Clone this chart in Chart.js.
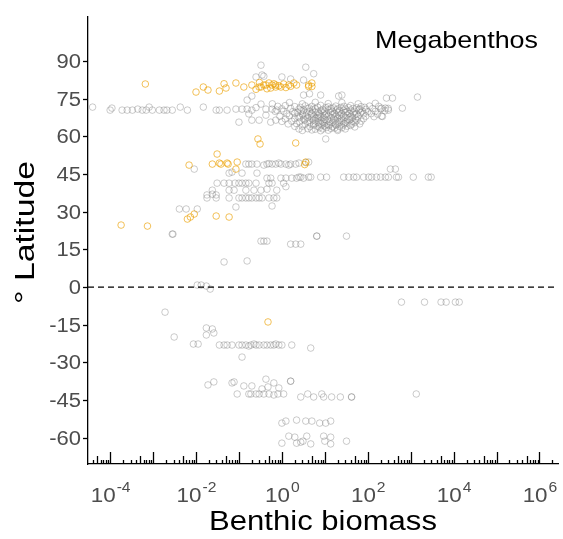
<!DOCTYPE html>
<html>
<head>
<meta charset="utf-8">
<title>Megabenthos</title>
<script src="https://cdn.jsdelivr.net/npm/chart.js@4.4.1/dist/chart.umd.min.js"></script>
<style>
  html, body { margin: 0; padding: 0; background: #fff; }
  #wrap { width: 563px; height: 539px; position: relative; }
</style>
</head>
<body>
<div id="wrap"><canvas id="chart"></canvas></div>
<script>
// Samples are [biomass, latitude]; orange = highlighted records, gray = the rest

const orangeHigh = [
  [6.6e-4, 80.9], [0.010, 77.7], [0.0148, 79.7], [0.019, 78.5], [0.035, 78.1], [0.045, 81.0],
  [0.050, 79.3], [0.085, 81.3], [0.13, 79.7], [0.20, 80.5], [0.25, 78.8], [0.295, 79.7],
  [0.30, 81.5], [0.326, 79.7], [0.38, 80.5], [0.425, 80.5], [0.45, 79.0], [0.50, 81.3],
  [0.55, 79.3], [0.59, 80.5], [0.65, 81.0], [0.72, 79.7], [0.72, 80.5], [0.85, 80.2],
  [0.95, 79.7], [1.1, 80.9], [1.24, 79.5], [1.45, 80.5], [1.6, 80.0], [1.9, 81.3],
  [2.2, 80.5], [4.2, 80.5], [5.0, 81.3], [4.2, 79.9], [5.0, 79.9]
];
const orangeMid = [
  [0.277, 59.0], [0.31, 57.0], [2.1, 57.4], [0.031, 53.0], [6.9e-3, 48.6], [0.024, 49.0],
  [0.035, 49.4], [0.038, 49.0], [0.053, 49.4], [0.056, 49.0], [0.091, 49.8], [0.085, 47.0],
  [3.6, 49.8], [3.4, 48.8]
];
const orangeLow = [
  [1.8e-4, 24.7], [7.4e-4, 24.3], [6.3e-3, 27.1], [7.4e-3, 27.9], [9.1e-3, 29.1],
  [0.0295, 28.3], [0.059, 27.9], [0.475, -13.9]
];

const grayArcticRow = [
  [3.9e-5, 71.7], [1.0e-4, 70.5], [1.1e-4, 71.3], [1.9e-4, 70.5], [2.5e-4, 70.5], [3.3e-4, 70.5],
  [4.4e-4, 70.9], [5.6e-4, 70.5], [6.9e-4, 70.5], [8.1e-4, 71.7], [9.6e-4, 70.5], [1.4e-3, 70.5],
  [1.8e-3, 70.5], [2.1e-3, 70.5], [2.8e-3, 70.5], [4.3e-3, 71.7], [6.3e-3, 70.5], [0.0148, 71.7],
  [0.0295, 70.5], [0.035, 70.5], [0.053, 70.5], [0.085, 70.9], [0.118, 70.9], [0.155, 70.9],
  [0.20, 70.5], [0.326, 72.9], [0.425, 70.9], [0.59, 70.9], [0.76, 70.5]
];
const grayArcticScatter = [
  [0.326, 88.4], [3.6, 87.6], [5.5, 85.0], [0.25, 83.7], [0.345, 84.5], [0.38, 84.0],
  [1.0, 83.7], [1.6, 82.9], [3.2, 82.5], [0.20, 76.1], [0.155, 74.5], [4.4, 77.0],
  [3.2, 76.5], [8.0, 76.5], [25, 76.5], [21, 76.1], [273, 75.3], [377, 75.3], [1440, 75.7],
  [640, 71.3], [210, 71.3], [258, 71.3], [303, 70.5], [210, 68.1], [0.10, 65.7], [0.295, 66.5],
  [0.425, 68.5], [0.55, 65.7], [0.72, 66.5], [0.17, 69.0], [0.20, 66.5], [0.25, 71.5], [10.5, 59.0]
];
// the dense Barents / Norwegian shelf cluster
const grayShelf = [
  [0.6, 73.0], [1.5, 73.5], [3, 73.0], [6, 73.6], [12, 73.1], [25, 73.5], [60, 73.0], [150, 73.2],
  [0.8, 72.0], [1.2, 72.3], [2, 71.9], [3.5, 72.2], [5, 72.0], [8, 72.4], [12, 71.8], [18, 72.1],
  [28, 72.0], [40, 72.3], [70, 71.9], [110, 72.1], [180, 72.0],
  [1, 71.0], [1.6, 71.2], [2.5, 70.9], [4, 71.1], [6, 71.0], [9, 70.8], [14, 71.2], [20, 71.0],
  [30, 70.9], [45, 71.1], [65, 71.0], [90, 70.8], [130, 71.1], [200, 71.0], [300, 71.2],
  [0.7, 70.0], [1.1, 70.1], [1.8, 69.9], [2.8, 70.2], [4.5, 70.0], [7, 69.8], [10, 70.1], [15, 70.0],
  [22, 70.2], [33, 69.9], [50, 70.0], [75, 70.1], [100, 69.9], [150, 70.0], [250, 70.2],
  [1.3, 69.0], [2, 69.2], [3, 68.9], [5, 69.1], [7.5, 69.0], [11, 68.8], [17, 69.1], [25, 69.0],
  [38, 69.2], [55, 68.9], [80, 69.0], [120, 69.1], [170, 68.9],
  [0.9, 68.0], [1.5, 68.2], [2.4, 67.9], [3.6, 68.1], [5.5, 68.0], [8, 67.8], [12, 68.1], [18, 68.0],
  [27, 68.2], [40, 67.9], [60, 68.0], [90, 68.1], [140, 67.9], [220, 68.0],
  [1.2, 67.0], [2, 67.1], [3.2, 66.9], [5, 67.0], [7, 67.2], [10, 66.8], [16, 67.0], [24, 67.1],
  [35, 66.9], [52, 67.0], [80, 67.1],
  [1, 66.0], [1.7, 66.1], [2.6, 65.9], [4, 66.0], [6, 66.2], [9, 65.9], [13, 66.0], [20, 66.1],
  [30, 65.8], [45, 66.0], [70, 66.1],
  [1.4, 65.0], [2.2, 65.1], [3.5, 64.9], [5.5, 65.0], [8, 65.2], [12, 64.8], [18, 65.0], [28, 65.1],
  [42, 64.9], [65, 65.0],
  [2, 64.0], [3, 64.1], [4.5, 63.9], [7, 64.0], [10, 64.2], [15, 63.9], [22, 64.0], [33, 64.1], [50, 63.8],
  [2.5, 63.0], [4, 63.1], [6, 62.9], [9, 63.0], [14, 63.2], [20, 62.9], [30, 63.0],
  [3, 62.4], [5, 62.6], [8, 62.3], [12, 62.5], [20, 62.4]
];
// core of the shelf cluster, where the circles pile up
const grayShelfCore = [
  [2.7, 71.6], [4.3, 71.4], [6.8, 71.7], [10.5, 71.5], [16, 71.4], [24, 71.6], [36, 71.5], [55, 71.4], [85, 71.6],
  [3.2, 70.5], [5.2, 70.6], [8.2, 70.4], [12.5, 70.5], [19, 70.6], [27, 70.4], [40, 70.5], [62, 70.6],
  [2.3, 69.6], [3.8, 69.5], [6, 69.7], [9, 69.4], [13.5, 69.6], [21, 69.5], [31, 69.6], [46, 69.4], [68, 69.5],
  [3.1, 68.5], [4.8, 68.6], [7.2, 68.4], [10, 68.5], [15, 68.6], [22, 68.4], [33, 68.5], [50, 68.6],
  [2.6, 67.6], [4, 67.5], [6.2, 67.4], [9.3, 67.6], [14, 67.5], [20, 67.4], [30, 67.6], [44, 67.5],
  [3.4, 66.6], [5.4, 66.5], [8, 66.4], [11.5, 66.6], [17, 66.5], [25, 66.4], [38, 66.6], [56, 66.5],
  [4.5, 65.5], [7, 65.6], [10, 65.4], [15, 65.5], [22, 65.6], [33, 65.4], [50, 65.5],
  [5.5, 64.5], [8.5, 64.6], [12.5, 64.4], [18, 64.5], [27, 64.6], [40, 64.4],
  [7.5, 63.5], [11, 63.6], [17, 63.4], [25, 63.5]
];
const grayTemperate = [
  [0.145, 49.0], [0.17, 49.0], [0.20, 49.0], [0.263, 49.0], [0.38, 48.6], [0.45, 49.0], [0.50, 49.2],
  [0.59, 49.0], [0.72, 49.0], [0.85, 49.4], [0.95, 49.0], [1.24, 49.0], [1.45, 48.6], [1.6, 49.0],
  [2.1, 49.0], [2.5, 49.4], [3.6, 49.6], [4.2, 49.8],
  [9.1e-3, 47.0], [0.059, 45.4], [0.069, 45.8], [0.118, 45.4], [0.263, 45.4], [337, 47.0], [440, 47.0],
  [0.45, 43.4], [0.55, 43.4], [0.95, 43.4], [1.24, 43.4], [1.7, 43.4], [2.2, 43.4], [3.2, 43.4],
  [2.5, 43.8], [2.75, 43.8], [4.2, 43.8], [4.7, 43.8], [8.0, 43.8], [11, 43.8], [27.5, 43.8],
  [36, 43.8], [47, 43.8], [55, 43.8], [80, 43.8], [105, 43.8], [123, 43.8], [160, 43.8],
  [200, 43.8], [258, 43.8], [303, 43.8], [465, 43.8], [520, 43.8], [1150, 43.8], [2580, 43.8], [3000, 43.8],
  [0.031, 41.4], [0.045, 41.4], [0.059, 41.4], [0.081, 41.4], [0.10, 41.4], [0.118, 41.4],
  [0.145, 41.4], [0.17, 41.4], [0.25, 41.4], [0.50, 41.4], [0.59, 41.4], [1.1, 41.4], [1.24, 40.0],
  [0.024, 38.6], [0.059, 38.6], [0.077, 38.6], [0.145, 38.6], [0.224, 38.6], [0.326, 38.6],
  [0.45, 39.0], [0.76, 38.6], [0.024, 37.0], [0.018, 36.7], [0.0295, 36.7],
  [0.018, 35.5], [0.0295, 35.5], [0.059, 35.5], [0.10, 35.5], [0.118, 35.5], [0.145, 35.5],
  [0.17, 35.5], [0.20, 35.5], [0.25, 35.5], [0.295, 35.5], [0.345, 35.5], [0.50, 35.5],
  [0.65, 35.5], [0.76, 35.5], [0.59, 32.3],
  [4.1e-3, 31.1], [5.9e-3, 31.1], [0.0107, 31.1], [0.085, 31.9]
];
const grayTropics = [
  [2.8e-3, 21.1], [2.9e-3, 21.1], [6.5, 20.3], [6.5, 20.3], [32, 20.3],
  [0.326, 18.3], [0.38, 18.3], [0.45, 18.3], [1.6, 17.1], [2.1, 17.1], [2.75, 17.1],
  [0.045, 10.0], [0.155, 10.4],
  [0.0107, 0.8], [0.0132, 0.8], [0.0174, 0.4], [0.0214, -0.8],
  [610, -6.0], [2100, -6.0], [5100, -6.0], [6700, -6.0], [1.1e4, -6.0], [1.35e4, -6.0]
];
const graySouth = [
  [1.9e-3, -10.0], [3.1e-3, -19.9], [0.0174, -16.3], [0.024, -16.7], [0.026, -18.3], [0.0174, -19.1],
  [8.7e-3, -22.7], [0.0112, -22.7],
  [0.035, -23.1], [0.045, -23.1], [0.053, -23.1], [0.069, -23.1], [0.10, -23.1], [0.118, -23.1],
  [0.145, -23.1], [0.17, -23.5], [0.19, -23.1], [0.224, -22.7], [0.25, -23.1], [0.295, -23.1],
  [0.38, -23.1], [0.45, -23.1], [0.55, -23.1], [0.65, -23.1], [0.72, -22.7], [0.85, -23.1],
  [1.0, -23.1], [1.7, -23.1], [4.7, -24.3], [0.118, -27.9],
  [0.019, -39.0], [0.026, -37.8], [0.069, -38.2], [0.077, -37.8], [0.13, -39.4], [0.20, -39.4],
  [0.425, -36.7], [0.345, -40.6], [0.475, -39.8], [0.65, -38.2], [0.85, -40.2], [1.6, -37.5], [1.6, -37.5],
  [0.091, -42.6], [0.17, -42.6], [0.19, -42.6], [0.25, -42.6], [0.295, -42.6], [0.38, -42.6],
  [0.50, -42.6], [0.65, -43.0], [0.81, -42.6], [1.1, -42.6],
  [2.75, -43.8], [4.0, -42.6], [5.5, -43.8], [8.5, -42.6], [9.4, -43.8], [14.4, -43.8], [23, -43.8],
  [42, -43.8], [42, -43.8], [1350, -42.6],
  [1.0, -54.2], [1.24, -53.4], [2.2, -53.0], [3.6, -53.4], [5.0, -53.4], [7.6, -54.2], [10.5, -54.2], [13.7, -53.4],
  [1.45, -59.4], [2.0, -59.8], [3.8, -59.4], [9.4, -59.4], [13.7, -59.8],
  [1.0, -62.2], [2.2, -62.2], [2.75, -61.8], [3.1, -61.4], [4.7, -62.5], [10, -61.4], [13.7, -62.5], [32, -61.4]
];

const yTickValues = [-60, -45, -30, -15, 0, 15, 30, 45, 60, 75, 90];
const xTickExponents = [-4, -2, 0, 2, 4, 6];
const panelLabel = 'Megabenthos';
const xTitle = 'Benthic biomass';
const yTitle = '\u00B0 Latitude';

const FONT = '"Liberation Sans", Arial, sans-serif';
const TICK_COLOR = '#4d4d4d';

const toPoints = rows => rows.map(([b, lat]) => ({ x: b, y: lat }));

// fillText with a horizontal stretch around the anchor point
function wideText(ctx, text, x, y, sx, align) {
  ctx.save();
  ctx.translate(x, y);
  ctx.scale(sx, 1);
  ctx.textAlign = align;
  ctx.fillText(text, 0, 0);
  ctx.restore();
}

// axis ticks, labels, titles and the dashed equator
const axisDecor = {
  id: 'axisDecor',
  afterDatasetsDraw(chart) {
    const { ctx, chartArea: a, scales: { x, y } } = chart;
    ctx.save();
    ctx.strokeStyle = '#000';
    ctx.lineWidth = 1.3;

    // equator
    const y0 = y.getPixelForValue(0);
    ctx.setLineDash([6, 4]);
    ctx.beginPath();
    ctx.moveTo(a.left, y0);
    ctx.lineTo(a.right, y0);
    ctx.stroke();
    ctx.setLineDash([]);

    // latitude ticks, outside
    ctx.font = `20px ${FONT}`;
    ctx.fillStyle = TICK_COLOR;
    ctx.textBaseline = 'middle';
    yTickValues.forEach(v => {
      const py = Math.round(y.getPixelForValue(v)) + 0.5;
      ctx.beginPath();
      ctx.moveTo(a.left - 5, py);
      ctx.lineTo(a.left, py);
      ctx.stroke();
      wideText(ctx, String(v), a.left - 7, py + 1, 1.1, 'right');
    });

    // log ticks, inside the panel along the bottom
    const lo = Math.floor(Math.log10(x.min));
    const hi = Math.ceil(Math.log10(x.max));
    for (let e = lo; e <= hi; e++) {
      for (let m = 1; m <= 9; m++) {
        const v = m * Math.pow(10, e);
        if (v < x.min || v > x.max) continue;
        const px = Math.round(x.getPixelForValue(v)) + 0.5;
        const len = m === 1 ? 12 : (m === 5 ? 8 : 4);
        ctx.beginPath();
        ctx.moveTo(px, a.bottom);
        ctx.lineTo(px, a.bottom - len);
        ctx.stroke();
      }
    }

    // 10^n labels
    ctx.textBaseline = 'alphabetic';
    const sx = 1.12;
    xTickExponents.forEach(e => {
      const px = x.getPixelForValue(Math.pow(10, e));
      ctx.font = `20px ${FONT}`;
      const wBase = ctx.measureText('10').width * sx;
      ctx.font = `14px ${FONT}`;
      const sup = e < 0 ? '-' + Math.abs(e) : String(e);
      const wSup = ctx.measureText(sup).width * sx;
      const left = px - (wBase + wSup) / 2;
      ctx.font = `20px ${FONT}`;
      wideText(ctx, '10', left, 502, sx, 'left');
      ctx.font = `14px ${FONT}`;
      wideText(ctx, sup, left + wBase + 1, 492, sx, 'left');
    });

    // titles
    ctx.fillStyle = '#000';
    ctx.font = `27px ${FONT}`;
    wideText(ctx, xTitle, (a.left + a.right) / 2, 530, 1.15, 'center');

    ctx.save();
    ctx.translate(34, (a.top + a.bottom) / 2 - 8);
    ctx.rotate(-Math.PI / 2);
    wideText(ctx, yTitle, 0, 0, 1.25, 'center');
    ctx.restore();

    ctx.font = `24px ${FONT}`;
    wideText(ctx, panelLabel, 538, 48, 1.12, 'right');
    ctx.restore();
  }
};

const ctx = document.getElementById('chart').getContext('2d');
new Chart(ctx, {
  type: 'scatter',
  data: {
    datasets: [
      {
        label: 'highlighted',
        order: 0,
        data: toPoints([...orangeHigh, ...orangeMid, ...orangeLow]),
        borderColor: 'rgba(235, 160, 0, 0.65)',
        backgroundColor: 'rgba(0, 0, 0, 0)',
        borderWidth: 1,
        pointRadius: 3.3
      },
      {
        label: 'other',
        order: 1,
        data: toPoints([...grayArcticRow, ...grayArcticScatter, ...grayShelf, ...grayShelfCore,
                        ...grayTemperate, ...grayTropics, ...graySouth]),
        borderColor: 'rgba(130, 130, 130, 0.42)',
        backgroundColor: 'rgba(0, 0, 0, 0)',
        borderWidth: 1,
        pointRadius: 3.3
      }
    ]
  },
  options: {
    responsive: true,
    maintainAspectRatio: false,
    animation: false,
    events: [],
    layout: { padding: { top: 17, right: 3, left: 0, bottom: 0 } },
    plugins: {
      legend: { display: false },
      tooltip: { enabled: false }
    },
    scales: {
      x: {
        type: 'logarithmic',
        min: 3.05e-5,
        max: 2.7e6,
        grid: { display: false },
        ticks: { display: false },
        border: { display: true, color: '#000', width: 1.3 },
        afterFit(scale) { scale.height = 75; }
      },
      y: {
        type: 'linear',
        min: -70.5,
        max: 107.6,
        grid: { display: false },
        ticks: { display: false },
        border: { display: true, color: '#000', width: 1.3 },
        afterFit(scale) { scale.width = 88; }
      }
    }
  },
  plugins: [axisDecor]
});
</script>
</body>
</html>
